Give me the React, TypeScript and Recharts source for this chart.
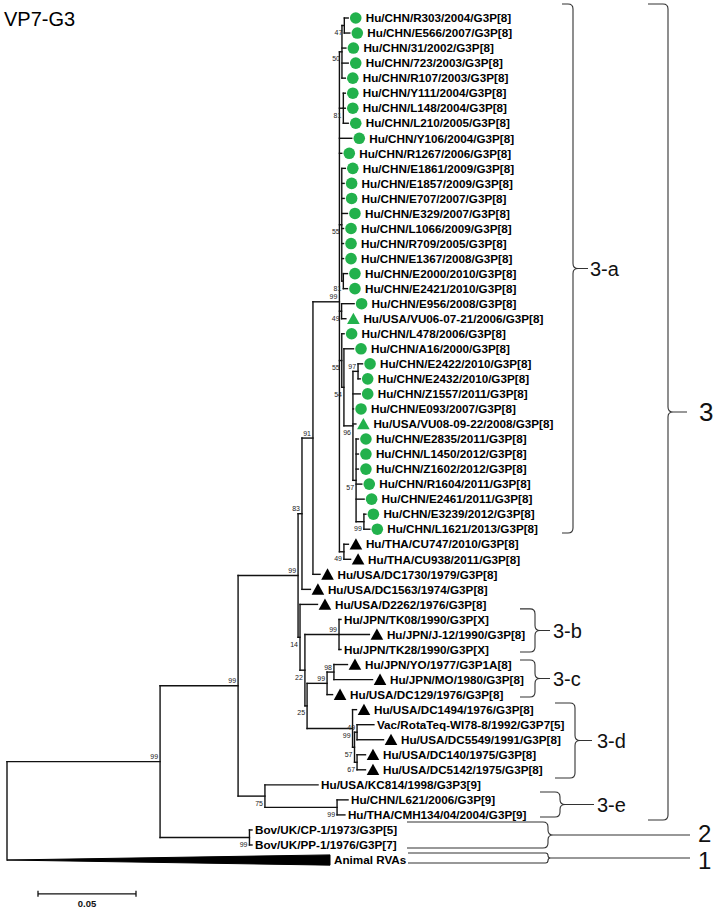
import { ScatterChart, Scatter, XAxis, YAxis, ReferenceLine, ReferenceArea } from 'recharts';

type Mark = 'dot' | 'tri' | 'blk' | 'none' | 'wedge';

// taxon, parent node, distance from root (subst./site), symbol
const taxa: [string, string, number, Mark][] = [
    ['Hu/CHN/R303/2004/G3P[8]', 'n47', 0.1741, 'dot'],
    ['Hu/CHN/E566/2007/G3P[8]', 'n47', 0.1749, 'dot'],
    ['Hu/CHN/31/2002/G3P[8]', 'n50', 0.1729, 'dot'],
    ['Hu/CHN/723/2003/G3P[8]', 'n50', 0.1741, 'dot'],
    ['Hu/CHN/R107/2003/G3P[8]', 'n50', 0.1726, 'dot'],
    ['Hu/CHN/Y111/2004/G3P[8]', 'n81a', 0.1726, 'dot'],
    ['Hu/CHN/L148/2004/G3P[8]', 'n81a', 0.1726, 'dot'],
    ['Hu/CHN/L210/2005/G3P[8]', 'n81a', 0.1741, 'dot'],
    ['Hu/CHN/Y106/2004/G3P[8]', 'n3a', 0.1759, 'dot'],
    ['Hu/CHN/R1267/2006/G3P[8]', 'n3a', 0.1708, 'dot'],
    ['Hu/CHN/E1861/2009/G3P[8]', 'n55a', 0.1726, 'dot'],
    ['Hu/CHN/E1857/2009/G3P[8]', 'n55a', 0.172, 'dot'],
    ['Hu/CHN/E707/2007/G3P[8]', 'n55a', 0.172, 'dot'],
    ['Hu/CHN/E329/2007/G3P[8]', 'n55a', 0.1737, 'dot'],
    ['Hu/CHN/L1066/2009/G3P[8]', 'n55a', 0.1717, 'dot'],
    ['Hu/CHN/R709/2005/G3P[8]', 'n55a', 0.1717, 'dot'],
    ['Hu/CHN/E1367/2008/G3P[8]', 'n55a', 0.1717, 'dot'],
    ['Hu/CHN/E2000/2010/G3P[8]', 'n81b', 0.1737, 'dot'],
    ['Hu/CHN/E2421/2010/G3P[8]', 'n81b', 0.1737, 'dot'],
    ['Hu/CHN/E956/2008/G3P[8]', 'n49a', 0.1771, 'dot'],
    ['Hu/USA/VU06-07-21/2006/G3P[8]', 'n49a', 0.1729, 'tri'],
    ['Hu/CHN/L478/2006/G3P[8]', 'n55b', 0.172, 'dot'],
    ['Hu/CHN/A16/2000/G3P[8]', 'n54', 0.1768, 'dot'],
    ['Hu/CHN/E2422/2010/G3P[8]', 'n97', 0.1814, 'dot'],
    ['Hu/CHN/E2432/2010/G3P[8]', 'n97', 0.1802, 'dot'],
    ['Hu/CHN/Z1557/2011/G3P[8]', 'n96', 0.1802, 'dot'],
    ['Hu/CHN/E093/2007/G3P[8]', 'n96', 0.1768, 'dot'],
    ['Hu/USA/VU08-09-22/2008/G3P[8]', 'n96', 0.178, 'tri'],
    ['Hu/CHN/E2835/2011/G3P[8]', 'n57', 0.1793, 'dot'],
    ['Hu/CHN/L1450/2012/G3P[8]', 'n57', 0.1793, 'dot'],
    ['Hu/CHN/Z1602/2012/G3P[8]', 'n57', 0.1793, 'dot'],
    ['Hu/CHN/R1604/2011/G3P[8]', 'n57', 0.181, 'dot'],
    ['Hu/CHN/E2461/2011/G3P[8]', 'n57', 0.1822, 'dot'],
    ['Hu/CHN/E3239/2012/G3P[8]', 'n99c', 0.1831, 'dot'],
    ['Hu/CHN/L1621/2013/G3P[8]', 'n99c', 0.1851, 'dot'],
    ['Hu/THA/CU747/2010/G3P[8]', 'nTHA', 0.1742, 'blk'],
    ['Hu/THA/CU938/2011/G3P[8]', 'nTHA', 0.1753, 'blk'],
    ['Hu/USA/DC1730/1979/G3P[8]', 'n91', 0.1597, 'blk'],
    ['Hu/USA/DC1563/1974/G3P[8]', 'n83', 0.1548, 'blk'],
    ['Hu/USA/D2262/1976/G3P[8]', 'n14', 0.1584, 'blk'],
    ['Hu/JPN/TK08/1990/G3P[X]', 'n3b', 0.1704, 'none'],
    ['Hu/JPN/J-12/1990/G3P[8]', 'n3b', 0.1849, 'blk'],
    ['Hu/JPN/TK28/1990/G3P[X]', 'n3b', 0.1704, 'none'],
    ['Hu/JPN/YO/1977/G3P1A[8]', 'n98', 0.1737, 'blk'],
    ['Hu/JPN/MO/1980/G3P[8]', 'n98', 0.1865, 'blk'],
    ['Hu/USA/DC129/1976/G3P[8]', 'n3c', 0.1661, 'blk'],
    ['Hu/USA/DC1494/1976/G3P[8]', 'n3d', 0.1783, 'blk'],
    ['Vac/RotaTeq-WI78-8/1992/G3P7[5]', 'n49r', 0.1872, 'none'],
    ['Hu/USA/DC5549/1991/G3P[8]', 'n49r', 0.1921, 'blk'],
    ['Hu/USA/DC140/1975/G3P[8]', 'n67', 0.1829, 'blk'],
    ['Hu/USA/DC5142/1975/G3P[8]', 'n67', 0.1829, 'blk'],
    ['Hu/USA/KC814/1998/G3P3[9]', 'n75', 0.1587, 'none'],
    ['Hu/CHN/L621/2006/G3P[9]', 'n99e', 0.174, 'none'],
    ['Hu/THA/CMH134/04/2004/G3P[9]', 'n99e', 0.1724, 'none'],
    ['Bov/UK/CP-1/1973/G3P[5]', 'nBov', 0.125, 'none'],
    ['Bov/UK/PP-1/1976/G3P[7]', 'nBov', 0.125, 'none'],
    ['Animal RVAs', 'root', 0.1648, 'wedge'],
];

// node id, parent, distance from root, bootstrap
const nodes: [string, string, number, string][] = [
    ['root', '', 0, ''],
    ['n99a', 'root', 0.0781, '99'],
    ['n99b', 'n99a', 0.1179, '99'],
    ['nBov', 'n99a', 0.1237, '99'],
    ['n99d', 'n99b', 0.1485, '99'],
    ['n75', 'n99b', 0.1316, '75'],
    ['n99e', 'n75', 0.1684, '99'],
    ['n83', 'n99d', 0.1505, '83'],
    ['n14', 'n99d', 0.1495, '14'],
    ['n91', 'n83', 0.1561, '91'],
    ['n3a', 'n91', 0.1696, '99'],
    ['nTHA', 'n3a', 0.1719, '49'],
    ['n50', 'n3a', 0.1709, '50'],
    ['n47', 'n50', 0.1721, '47'],
    ['n81a', 'n3a', 0.1716, '81'],
    ['n55a', 'n3a', 0.1708, '55'],
    ['n81b', 'n55a', 0.1716, '81'],
    ['n49a', 'n3a', 0.1707, '49'],
    ['n55b', 'n3a', 0.1708, '55'],
    ['n54', 'n55b', 0.1719, '54'],
    ['n96', 'n54', 0.1765, '96'],
    ['n97', 'n96', 0.1791, '97'],
    ['n57', 'n96', 0.1781, '57'],
    ['n99c', 'n57', 0.1821, '99'],
    ['n22', 'n14', 0.152, '22'],
    ['n25', 'n22', 0.1531, '25'],
    ['n3b', 'n22', 0.1694, '99'],
    ['n3c', 'n25', 0.1633, '99'],
    ['n98', 'n3c', 0.1668, '98'],
    ['n3d', 'n25', 0.1763, '99'],
    ['n57d', 'n3d', 0.1773, '57'],
    ['n49r', 'n57d', 0.1786, '49'],
    ['n67', 'n57d', 0.1786, '67'],
];

const groupNames = ['3-a', '3', '3-b', '3-c', '3-d', '3-e', '2', '1'];
// rows spanned by each bracket
const groupRows: [number, number][] = [
    [-0.93, 34.25],
    [-0.93, 53.34],
    [39.3, 42.17],
    [42.7, 45.16],
    [45.56, 50.55],
    [51.48, 53.14],
    [53.47, 55.2],
    [55.53, 56.2],
];

const scaleLength = 0.05;
const scaleLabel = '0.05';

// ---- layout ----
const W = 718;
const H = 910;
const ROOT_PX = 7;
const UNIT_PX = 1960;
const TOP_PX = 18;
const ROW_PX = 15.036;
const px2d = (px: number) => (px - ROOT_PX) / UNIT_PX;
const xDomain: [number, number] = [px2d(0), px2d(W)];
const yDomain: [number, number] = [-TOP_PX / ROW_PX, (H - TOP_PX) / ROW_PX];

// arm start, stem, tip end, text x, font size, text dy (px)
const braceLayout: [number, number, number, number, number, number][] = [
    [562, 573, 588, 590, 20, 0],
    [648, 668, 687, 699, 26, 0],
    [520, 535, 550, 553, 20, 0],
    [520, 535, 550, 553, 20, 0],
    [555, 575, 592, 597, 20, 0],
    [540, 560, 594, 597, 20, 0],
    [407, 548, 690, 698, 24, -2],
    [408, 548, 690, 698, 24, 2],
];

const GREEN = '#22b14c';
const FONT = 'Arial, "Liberation Sans", sans-serif';
const labelsBelow = ['n47', 'n50'];

const depthOf: Record<string, number> = {};
nodes.forEach(([id, , d]) => (depthOf[id] = d));

const yCache: Record<string, number> = {};
function childYs(id: string): number[] {
    const ys: number[] = [];
    taxa.forEach((t, i) => {
        if (t[1] === id) ys.push(i);
    });
    nodes.forEach((n) => {
        if (n[1] === id) ys.push(nodeY(n[0]));
    });
    return ys;
}
function nodeY(id: string): number {
    if (yCache[id] !== undefined) return yCache[id];
    const ys = childYs(id);
    const y = (Math.min(...ys) + Math.max(...ys)) / 2;
    yCache[id] = y;
    return y;
}

type Seg = { x1: number; y1: number; x2: number; y2: number };
const segs: Seg[] = [];
nodes.forEach(([id, parent, d]) => {
    const ys = childYs(id);
    segs.push({ x1: d, y1: Math.min(...ys), x2: d, y2: Math.max(...ys) });
    if (parent) segs.push({ x1: depthOf[parent], y1: nodeY(id), x2: d, y2: nodeY(id) });
});
taxa.forEach(([, parent, d, mark], i) => {
    if (mark !== 'wedge') segs.push({ x1: depthOf[parent], y1: i, x2: d, y2: i });
});

const leafPoints = taxa.map(([name, , d, mark], i) => ({ x: d, y: i, name, mark }));
const wedgeIndex = taxa.findIndex((t) => t[3] === 'wedge');

const bootPoints = nodes
    .filter((n) => n[3])
    .map(([id, parent, d, label]) => {
        const y = nodeY(id);
        const first = Math.min(...childYs(parent)) === y;
        return { x: d, y, label, below: !first || labelsBelow.includes(id) };
    });

const LeafShape = (p: any) => {
    const { cx, cy, payload } = p;
    const m: Mark = payload.mark;
    const mx = cx + 7.5;
    let marker = null;
    if (m === 'dot') marker = <circle cx={mx} cy={cy} r={5.8} fill={GREEN} />;
    if (m === 'tri' || m === 'blk')
        marker = (
            <polygon
                points={`${mx - 6.3},${cy + 5.3} ${mx + 6.3},${cy + 5.3} ${mx},${cy - 6}`}
                fill={m === 'tri' ? GREEN : '#000'}
            />
        );
    const tx = m === 'none' ? cx + 3 : m === 'wedge' ? cx + 4 : cx + 17.5;
    return (
        <g>
            {marker}
            <text x={tx} y={cy} dy="0.36em" fontSize={11.7} fontWeight="bold" fontFamily={FONT} fill="#000">
                {payload.name}
            </text>
        </g>
    );
};

const BootShape = (p: any) => {
    const { cx, cy, payload } = p;
    return (
        <text
            x={cx - 2}
            y={payload.below ? cy + 9.5 : cy - 2.5}
            textAnchor="end"
            fontSize={7}
            fontFamily={FONT}
            fill="#222"
        >
            {payload.label}
        </text>
    );
};

function bracePath(x: number, y: number, w: number, h: number, stem: number) {
    const xs = x + stem;
    const xt = x + w;
    const mid = y + h / 2;
    const c = Math.min(5, h / 4);
    return (
        `M${x},${y} L${xs - c},${y} Q${xs},${y} ${xs},${y + c} L${xs},${mid - c} ` +
        `Q${xs},${mid} ${xs + c},${mid} L${xt},${mid} ` +
        `M${xs + c},${mid} Q${xs},${mid} ${xs},${mid + c} L${xs},${y + h - c} ` +
        `Q${xs},${y + h} ${xs - c},${y + h} L${x},${y + h}`
    );
}

export default function App() {
    return (
        <div style={{ position: 'absolute', left: 0, top: 0, width: W, height: H, background: '#fff' }}>
            <ScatterChart width={W} height={H} margin={{ top: 0, right: 0, bottom: 0, left: 0 }}>
                <XAxis type="number" dataKey="x" domain={xDomain} hide allowDataOverflow />
                <YAxis type="number" dataKey="y" domain={yDomain} reversed hide allowDataOverflow />
                {segs.map((s, i) => (
                    <ReferenceLine
                        key={`s${i}`}
                        segment={[
                            { x: s.x1, y: s.y1 },
                            { x: s.x2, y: s.y2 },
                        ]}
                        stroke="#111"
                        strokeWidth={1.4}
                        strokeLinecap="square"
                        ifOverflow="visible"
                    />
                ))}
                <ReferenceArea
                    x1={0}
                    x2={taxa[wedgeIndex][2]}
                    y1={wedgeIndex - 0.34}
                    y2={wedgeIndex + 0.34}
                    ifOverflow="visible"
                    shape={(p: any) => (
                        <polygon
                            points={`${p.x},${p.y + p.height / 2} ${p.x + p.width},${p.y} ${p.x + p.width},${p.y + p.height}`}
                            fill="#000"
                            stroke="#000"
                            strokeWidth={1}
                        />
                    )}
                />
                {groupNames.map((name, i) => {
                    const [arm, stem, tip, tx, fs, dy] = braceLayout[i];
                    const [top, bottom] = groupRows[i];
                    return (
                        <ReferenceArea
                            key={name + i}
                            x1={px2d(arm)}
                            x2={px2d(tip)}
                            y1={top}
                            y2={bottom}
                            ifOverflow="visible"
                            shape={(p: any) => (
                                <g>
                                    <path
                                        d={bracePath(p.x, p.y, p.width, p.height, stem - arm)}
                                        fill="none"
                                        stroke="#333"
                                        strokeWidth={1.1}
                                    />
                                    <text
                                        x={p.x + (tx - arm)}
                                        y={p.y + p.height / 2 + dy + fs * 0.36}
                                        fontSize={fs}
                                        fontFamily={FONT}
                                        fill="#111"
                                    >
                                        {name}
                                    </text>
                                </g>
                            )}
                        />
                    );
                })}
                <ReferenceArea
                    x1={px2d(38)}
                    x2={px2d(38) + scaleLength}
                    y1={58.0}
                    y2={58.5}
                    ifOverflow="visible"
                    shape={(p: any) => {
                        const my = p.y + p.height / 2;
                        return (
                            <g stroke="#111" strokeWidth={1.3}>
                                <line x1={p.x} y1={my} x2={p.x + p.width} y2={my} />
                                <line x1={p.x} y1={my - 3} x2={p.x} y2={my + 3} />
                                <line x1={p.x + p.width} y1={my - 3} x2={p.x + p.width} y2={my + 3} />
                                <text
                                    x={p.x + p.width / 2}
                                    y={my + 13}
                                    textAnchor="middle"
                                    fontSize={9.5}
                                    fontWeight="bold"
                                    fontFamily={FONT}
                                    fill="#111"
                                    stroke="none"
                                >
                                    {scaleLabel}
                                </text>
                            </g>
                        );
                    }}
                />
                <Scatter data={bootPoints} dataKey="y" shape={BootShape} isAnimationActive={false} />
                <Scatter data={leafPoints} dataKey="y" shape={LeafShape} isAnimationActive={false} />
            </ScatterChart>
            <div
                style={{
                    position: 'absolute',
                    left: 4,
                    top: 7,
                    fontSize: 20,
                    lineHeight: '24px',
                    fontFamily: FONT,
                    color: '#000',
                }}
            >
                VP7-G3
            </div>
        </div>
    );
}
